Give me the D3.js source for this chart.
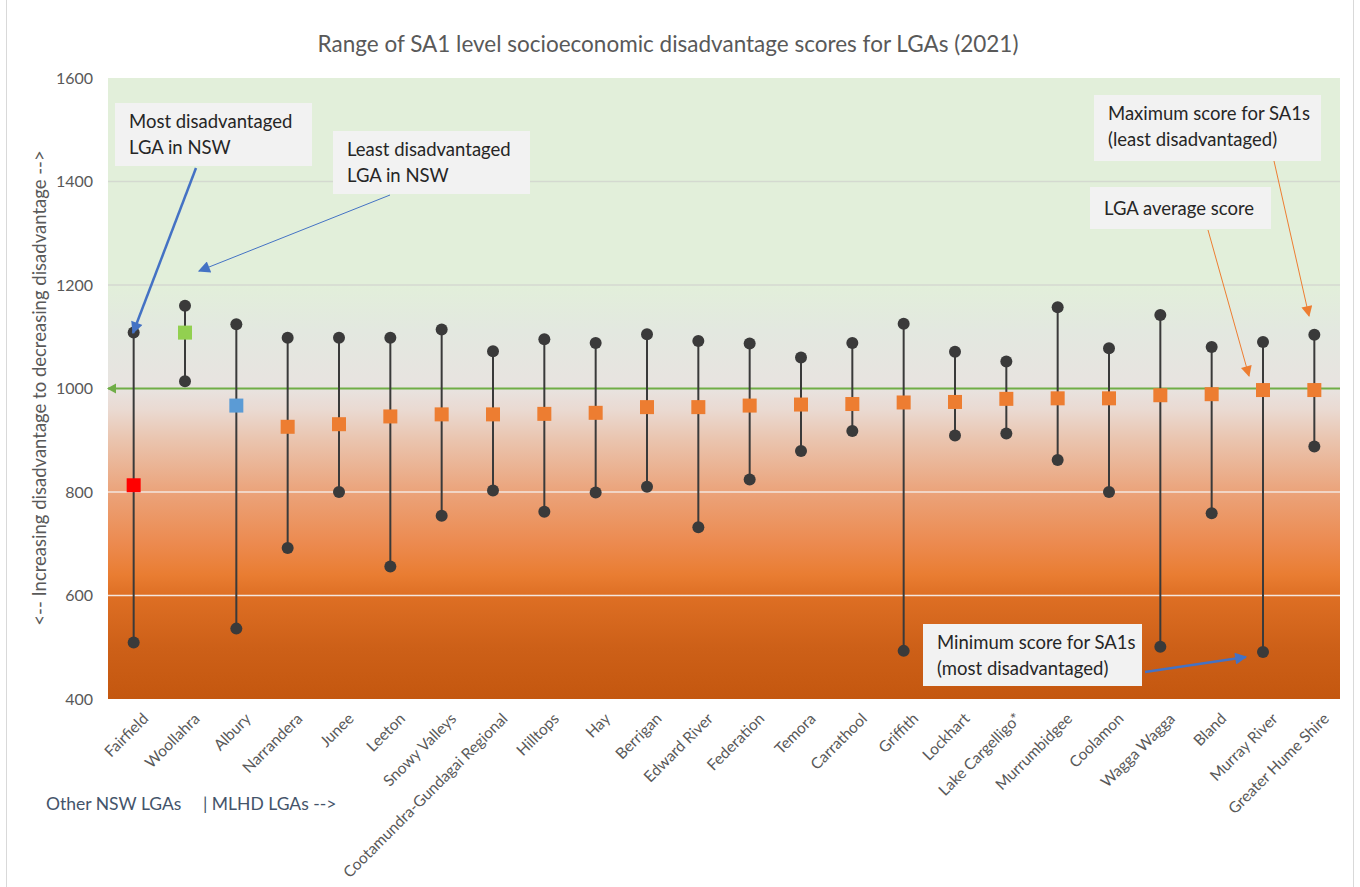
<!DOCTYPE html>
<html><head><meta charset="utf-8">
<script src="https://cdn.jsdelivr.net/npm/d3@7"></script>
<style>body{margin:0;background:#fff}svg{display:block}text{font-family:Lato,"Open Sans",sans-serif}</style>
</head><body><svg id="c" width="1360" height="887"></svg>
<script>
const categories = ["Fairfield","Woollahra","Albury","Narrandera","Junee","Leeton","Snowy Valleys","Cootamundra-Gundagai Regional","Hilltops","Hay","Berrigan","Edward River","Federation","Temora","Carrathool","Griffith","Lockhart","Lake Cargelligo*","Murrumbidgee","Coolamon","Wagga Wagga","Bland","Murray River","Greater Hume Shire"];
const maxScores = [1108,1160,1124,1098,1098,1098,1114,1072,1095,1088,1105,1092,1087,1060,1088,1125,1071,1052,1157,1078,1142,1080,1090,1104];
const avgScores = [813,1108,967,926,931,946,950,950,951,953,964,964,967,969,970,973,974,980,981,981,987,989,997,997];
const minScores = [509,1014,536,692,800,656,754,803,762,799,810,732,824,879,918,493,909,913,862,800,501,759,491,888];
const avgColors = ["#ff0000","#92d050","#5b9bd5"]; // remaining LGAs orange
const yTicks = [400,600,800,1000,1200,1400,1600];
const referenceScore = 1000;

const svg = d3.select("#c");
const L=108, R=1340, T=78, B=699;
const x = d3.scaleBand().domain(categories).range([L,R]);
const y = d3.scaleLinear().domain([400,1600]).range([B,T]);

// frame
svg.append("line").attr("x1",6.5).attr("x2",6.5).attr("y1",0).attr("y2",887).attr("stroke","#d9d9d9");
svg.append("line").attr("x1",1353.5).attr("x2",1353.5).attr("y1",0).attr("y2",887).attr("stroke","#d9d9d9");

// background gradient
const defs = svg.append("defs");
const g = defs.append("linearGradient").attr("id","bg").attr("gradientUnits","userSpaceOnUse")
  .attr("x1",0).attr("x2",0).attr("y1",y(1600)).attr("y2",y(400));
const stops = [[1600,"#e2efda"],[1200,"#e2efda"],[1110,"#e3e8e0"],[1000,"#e8e3e0"],[960,"#eadad2"],[900,"#eac4ae"],[800,"#eba37a"],[700,"#ec8a4f"],[640,"#e97d32"],[600,"#de6f24"],[500,"#cd6018"],[400,"#c4570f"]];
stops.forEach(([v,c])=>g.append("stop").attr("offset",(y(v)-T)/(B-T)).attr("stop-color",c));
svg.append("rect").attr("x",L).attr("y",T).attr("width",R-L).attr("height",B-T).attr("fill","url(#bg)");

// gridlines
[1400,1200].forEach(v=>svg.append("line").attr("x1",L).attr("x2",R).attr("y1",y(v)).attr("y2",y(v)).attr("stroke","#d4d9d0").attr("stroke-width",1.5));
[800,600].forEach(v=>svg.append("line").attr("x1",L).attr("x2",R).attr("y1",y(v)).attr("y2",y(v)).attr("stroke","#f3e6df").attr("stroke-width",1.5));

// y axis
const ya = svg.append("g").attr("transform",`translate(${L},0)`)
  .call(d3.axisLeft(y).tickValues(yTicks).tickFormat(d3.format("d")).tickSize(0).tickPadding(15));
ya.select(".domain").remove();
ya.selectAll("text").attr("font-size",16).attr("fill","#595959").style("font-family","Lato");

// reference line with triangle
svg.append("line").attr("x1",L).attr("x2",R).attr("y1",y(referenceScore)).attr("y2",y(referenceScore)).attr("stroke","#70ad47").attr("stroke-width",1.8);
svg.append("path").attr("d",`M${L-1},${y(referenceScore)} l9,-5 l0,10 z`).attr("fill","#70ad47");

// stems
const cx = d => x(d)+x.bandwidth()/2;
svg.append("g").selectAll("line").data(categories).join("line")
  .attr("x1",cx).attr("x2",cx).attr("y1",(d,i)=>y(maxScores[i])).attr("y2",(d,i)=>y(minScores[i]))
  .attr("stroke","#3a3a3a").attr("stroke-width",2);
// dots
const dots = svg.append("g");
dots.selectAll("circle.mx").data(categories).join("circle").attr("class","mx")
  .attr("cx",cx).attr("cy",(d,i)=>y(maxScores[i])).attr("r",6).attr("fill","#3a3a3a");
dots.selectAll("circle.mn").data(categories).join("circle").attr("class","mn")
  .attr("cx",cx).attr("cy",(d,i)=>y(minScores[i])).attr("r",6).attr("fill","#3a3a3a");
// avg squares
svg.append("g").selectAll("rect").data(categories).join("rect")
  .attr("x",d=>cx(d)-7).attr("y",(d,i)=>y(avgScores[i])-7).attr("width",14).attr("height",14)
  .attr("fill",(d,i)=>avgColors[i]||"#ed7d31");

// x labels
svg.append("g").selectAll("text").data(categories).join("text")
  .attr("transform",d=>`translate(${cx(d)+8},${712}) rotate(-45)`)
  .attr("text-anchor","end").attr("dy","0.7em").attr("font-size",15.5).attr("fill","#595959").text(d=>d);

// title
svg.append("text").attr("x",668).attr("y",52).attr("text-anchor","middle").attr("font-size",22.5).attr("fill","#595959")
  .text("Range of SA1 level socioeconomic disadvantage scores for LGAs (2021)");
// y title
svg.append("text").attr("transform",`translate(46,${388}) rotate(-90)`).attr("text-anchor","middle").attr("font-size",18.5).attr("fill","#595959")
  .text("<-- Increasing disadvantage to decreasing disadvantage -->");

// group notes
svg.append("text").attr("x",46).attr("y",810).attr("font-size",17.5).attr("fill","#44546a").text("Other NSW LGAs");
svg.append("text").attr("x",203).attr("y",810).attr("font-size",17.5).attr("fill","#44546a").text("| MLHD LGAs -->");

// annotations
defs.append("marker").attr("id","ab").attr("viewBox","0 0 10 10").attr("refX",9).attr("refY",5)
  .attr("markerWidth",14).attr("markerHeight",12).attr("orient","auto").attr("markerUnits","userSpaceOnUse")
  .append("path").attr("d","M0,0 L10,5 L0,10 z").attr("fill","#4472c4");
defs.append("marker").attr("id","ao").attr("viewBox","0 0 10 10").attr("refX",9).attr("refY",5)
  .attr("markerWidth",12).attr("markerHeight",11).attr("orient","auto").attr("markerUnits","userSpaceOnUse")
  .append("path").attr("d","M0,0 L10,5 L0,10 z").attr("fill","#ed7d31");

const notes = [
  {x:115,y:103,w:197,h:63,lines:["Most disadvantaged","LGA in NSW"]},
  {x:333,y:131,w:197,h:63,lines:["Least disadvantaged","LGA in NSW"]},
  {x:1094,y:95,w:227,h:66,lines:["Maximum score for SA1s","(least disadvantaged)"]},
  {x:1090,y:187,w:181,h:42,lines:["LGA average score"]},
  {x:923,y:624,w:219,h:62,lines:["Minimum score for SA1s","(most disadvantaged)"]}
];
notes.forEach(n=>{
  svg.append("rect").attr("x",n.x).attr("y",n.y).attr("width",n.w).attr("height",n.h).attr("fill","#f2f2f2");
  n.lines.forEach((t,i)=>svg.append("text").attr("x",n.x+14).attr("y",n.y+(n.lines.length===1?28:25+i*26))
    .attr("font-size",18.5).attr("fill","#262626").text(t));
});
const arrows = [
  {x1:196,y1:168,x2:133,y2:333,c:"#4472c4",w:2.5,m:"ab"},
  {x1:390,y1:195,x2:199,y2:271,c:"#4472c4",w:1,m:"ab"},
  {x1:1274,y1:161,x2:1309,y2:316,c:"#ed7d31",w:1,m:"ao"},
  {x1:1208,y1:230,x2:1249,y2:376,c:"#ed7d31",w:1,m:"ao"},
  {x1:1145,y1:672,x2:1246,y2:657,c:"#4472c4",w:2.5,m:"ab"}
];
arrows.forEach(a=>svg.append("line").attr("x1",a.x1).attr("y1",a.y1).attr("x2",a.x2).attr("y2",a.y2)
  .attr("stroke",a.c).attr("stroke-width",a.w).attr("marker-end",`url(#${a.m})`));
</script></body></html>
